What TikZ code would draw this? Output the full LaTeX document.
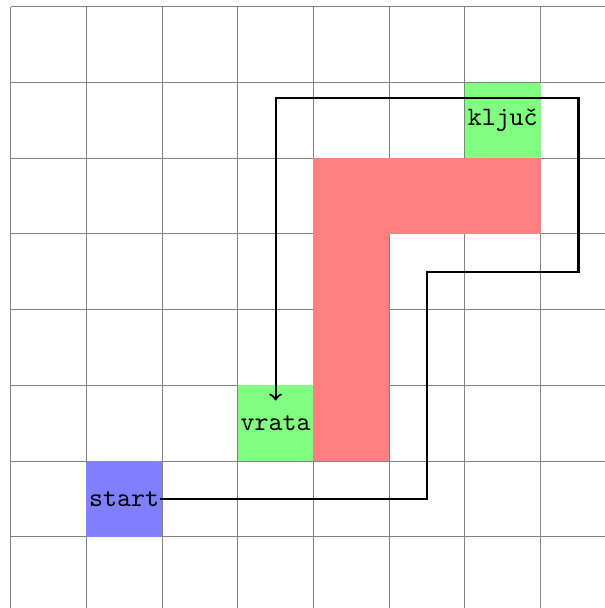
\documentclass[tikz,border=0pt]{standalone}
\usepackage{fontspec}
\tikzset{
  gridline/.style={gray, line width=0.4pt},
  label/.style={inner sep=0pt, font=\ttfamily},
  route/.style={thick, ->}
}
\begin{document}
\begin{tikzpicture}
\useasboundingbox (-0.14,0.06) rectangle (7.85,8.09);
\draw[gridline] (0,0) grid (8,8);
\fill[blue!50] (1,1) rectangle (2,2);
\fill[green!50] (3,2) rectangle (4,3);
\fill[green!50] (6,6) rectangle (7,7);
\fill[red!50] (4,2) rectangle (5,6);
\fill[red!50] (4,5) rectangle (7,6);
\node[label] (start) at (1.5,1.5) {start};
\node[label] (vrata) at (3.5,2.5) {vrata};
\node[label] (kljuc) at (6.5,6.5) {ključ};
\coordinate (door) at (3.5,2.8);
\draw[route] (start.east) -- (5.5,1.5) -- (5.5,4.5) -- (7.5,4.5) -- (7.5,6.8) -- (3.5,6.8) -- (door);
\end{tikzpicture}
\end{document}
